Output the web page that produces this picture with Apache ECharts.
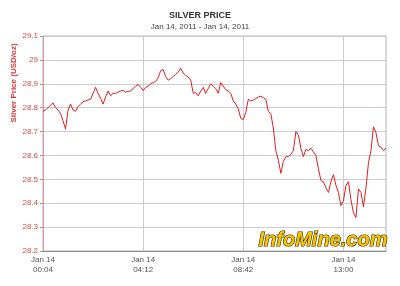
<!DOCTYPE html>
<html>
<head>
<meta charset="utf-8">
<script src="https://cdn.jsdelivr.net/npm/echarts@6/dist/echarts.min.js"></script>
<style>html,body{margin:0;padding:0;background:#fff;}#c{width:400px;height:286px;}</style>
</head>
<body>
<div id="c"></div>
<script>
// Silver price (USD/oz), sampled left to right across the trading day
const prices = [
  28.785, 28.79, 28.80, 28.81, 28.82, 28.80, 28.79, 28.775, 28.745, 28.71,
  28.79, 28.815, 28.79, 28.785, 28.805, 28.815, 28.825, 28.828, 28.832, 28.835,
  28.86, 28.885, 28.86, 28.84, 28.815, 28.845, 28.87, 28.85, 28.86, 28.86,
  28.865, 28.87, 28.872, 28.865, 28.868, 28.87, 28.88, 28.89, 28.897, 28.885,
  28.872, 28.885, 28.89, 28.90, 28.905, 28.91, 28.925, 28.955, 28.96, 28.93,
  28.915, 28.922, 28.93, 28.94, 28.948, 28.965, 28.945, 28.935, 28.928, 28.915,
  28.86, 28.863, 28.85, 28.87, 28.885, 28.86, 28.88, 28.90, 28.89, 28.88,
  28.86, 28.905, 28.89, 28.875, 28.87, 28.86, 28.828, 28.815, 28.795, 28.755,
  28.75, 28.78, 28.835, 28.828, 28.832, 28.838, 28.845, 28.848, 28.842, 28.835,
  28.785, 28.775, 28.715, 28.62, 28.58, 28.525, 28.575, 28.595, 28.595, 28.605,
  28.62, 28.70, 28.685, 28.63, 28.595, 28.625, 28.62, 28.63, 28.615, 28.60,
  28.545, 28.495, 28.49, 28.465, 28.445, 28.49, 28.52, 28.475, 28.445, 28.39,
  28.41, 28.475, 28.49, 28.415, 28.36, 28.34, 28.46, 28.445, 28.385, 28.465,
  28.57, 28.62, 28.72, 28.695, 28.64, 28.635, 28.62, 28.63
];
const tickIndex = [0, 40, 80, 120];
const tickLabels = ["Jan 14\n00:04", "Jan 14\n04:12", "Jan 14\n08:42", "Jan 14\n13:00"];
const yMin = 28.2, yMax = 29.1, yStep = 0.1;
const titleText = "SILVER PRICE";
const subText = "Jan 14, 2011 - Jan 14, 2011";
const yName = "Silver Price (USD/oz)";
const watermark = "InfoMine.com";

const categories = prices.map((_, i) => String(i));
const labelFor = {};
tickIndex.forEach((k, j) => { labelFor[k] = tickLabels[j]; });
const isTick = (idx) => labelFor.hasOwnProperty(idx);

const chart = echarts.init(document.getElementById('c'));
chart.setOption({
  animation: false,
  title: {
    text: titleText, subtext: subText, left: 'center', top: 6,
    itemGap: 3,
    textStyle: { fontFamily: 'Liberation Sans', fontSize: 9, fontWeight: 'bold', color: '#333' },
    subtextStyle: { fontFamily: 'Liberation Sans', fontSize: 8, color: '#444' }
  },
  grid: { left: 43, right: 14, top: 36, bottom: 35, show: true, borderColor: '#b4b4b4', borderWidth: 1 },
  xAxis: {
    type: 'category', data: categories, boundaryGap: false,
    axisLine: { lineStyle: { color: '#8a8a8a', width: 1 } },
    axisTick: { show: false },
    axisLabel: {
      interval: (idx) => isTick(idx), formatter: (v, idx) => labelFor[idx] || '',
      fontFamily: 'Liberation Sans', fontSize: 8, color: '#555', margin: 4, lineHeight: 10
    },
    splitLine: { show: true, interval: (idx) => isTick(idx), lineStyle: { color: '#cccccc', width: 1 } }
  },
  yAxis: {
    type: 'value', min: yMin, max: yMax, interval: yStep,
    axisLine: { show: true, lineStyle: { color: '#e59a9a', width: 1 } },
    axisTick: { show: true, length: 3, lineStyle: { color: '#999' } },
    axisLabel: { fontFamily: 'Liberation Sans', fontSize: 8, color: '#dd4a4a', margin: 5,
      formatter: (v) => String(Math.round(v * 10) / 10) },
    splitLine: { lineStyle: { color: '#cccccc', width: 1 } }
  },
  graphic: [
    { type: 'text', x: 14, y: 83, rotation: Math.PI / 2,
      style: { text: yName, fill: '#dd3a3a', font: 'bold 8px "Liberation Sans"', textAlign: 'center', textVerticalAlign: 'middle' } },
    { type: 'text', x: 323, y: 240, z: 10,
      style: { text: watermark, fill: '#f5c400', stroke: '#3a2a00', lineWidth: 1.2,
        font: 'italic bold 20px "Liberation Sans"', textAlign: 'center', textVerticalAlign: 'middle' } }
  ],
  series: [{
    type: 'line', data: prices, showSymbol: false, symbol: 'none',
    lineStyle: { color: '#e01e1e', width: 1 }
  }]
});
</script>
</body>
</html>
